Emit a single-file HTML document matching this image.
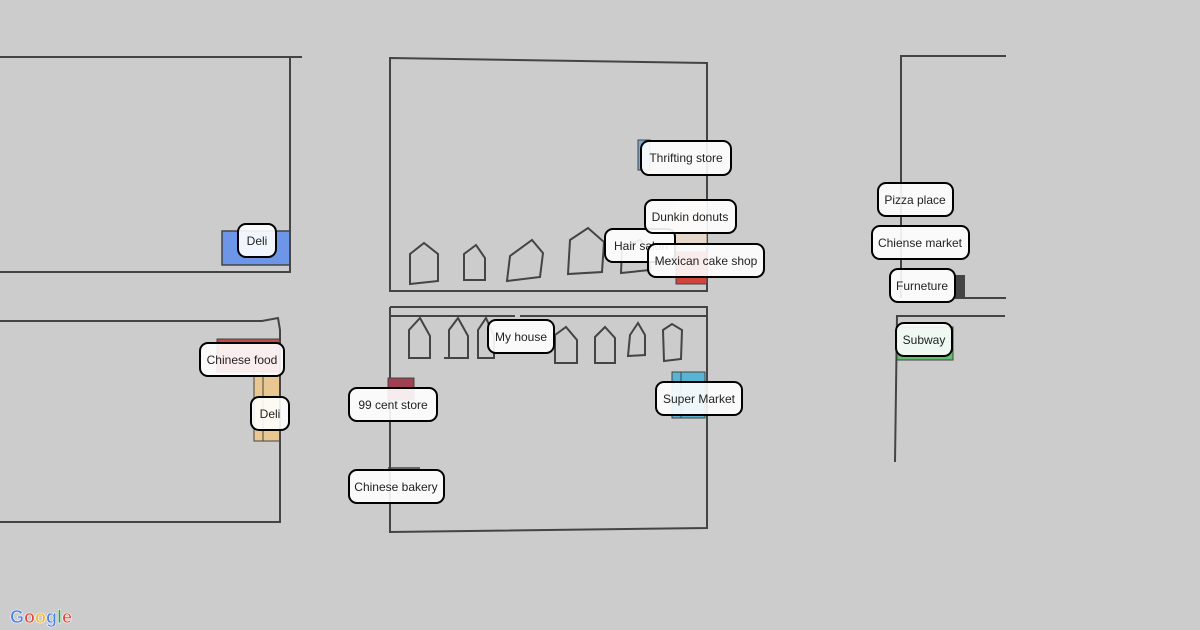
<!DOCTYPE html>
<html><head><meta charset="utf-8"><style>
html,body{margin:0;padding:0;background:#cccccc;}
svg{display:block;}
text{font-family:"Liberation Sans",sans-serif;font-size:12px;fill:#222;}
.l{fill:none;stroke:#444;stroke-width:2;}
.h{fill:none;stroke:#444;stroke-width:2;stroke-linejoin:miter;}
.b{fill:#fff;fill-opacity:0.9;stroke:#000;stroke-width:2;}
</style></head><body>
<svg width="1200" height="630" viewBox="0 0 1200 630">
<rect width="1200" height="630" fill="#cccccc"/>
<!-- left top -->
<rect x="222" y="231" width="68" height="34" fill="#6e96e8" stroke="#444" stroke-width="1.5"/>
<polyline class="l" points="0,57 302,57"/>
<polyline class="l" points="290,57 290,272 0,272"/>
<!-- left lower -->
<rect x="217" y="339" width="63" height="33" fill="#c04a4a" stroke="#444" stroke-width="1"/>
<rect x="254" y="372" width="26" height="69" fill="#e8c890" stroke="#444" stroke-width="1"/>
<line x1="263" y1="372" x2="263" y2="441" stroke="#444" stroke-width="1"/>
<polyline class="l" points="0,321 262,321 278,318 280,330 280,522 0,522"/>
<!-- middle top -->
<polygon class="l" points="390,58 707,63 707,291 390,291"/>
<rect x="638" y="140" width="12" height="30" fill="#7fa8d0" stroke="#444" stroke-width="1"/>
<rect x="676" y="252" width="31" height="32" fill="#d0443c" stroke="#444" stroke-width="1"/>
<rect x="676" y="200" width="31" height="48" fill="#f5e0c8" opacity="0.6"/>
<polygon class="h" points="410,254 424,243 438,254 438,281 410,284"/>
<polygon class="h" points="464,254 476,245 485,258 485,280 464,280"/>
<polygon class="h" points="510,256 532,240 543,253 540,277 507,281"/>
<polygon class="h" points="570,240 588,228 604,242 602,272 568,274"/>
<polygon class="h" points="622,248 640,240 650,250 650,270 621,273"/>
<!-- middle lower -->
<polyline class="l" points="390,307 707,307 707,528 390,532 390,307"/>
<line x1="390" y1="316" x2="515" y2="316" stroke="#444" stroke-width="2"/>
<line x1="520" y1="316" x2="707" y2="316" stroke="#444" stroke-width="2"/>
<polygon class="h" points="409,330 420,318 430,336 430,358 409,358"/>
<polygon class="h" points="449,330 458,318 468,336 468,358 449,358"/>
<line x1="444" y1="358" x2="469" y2="358" stroke="#444" stroke-width="2"/>
<polygon class="h" points="478,330 486,318 494,336 494,358 478,358"/>
<polygon class="h" points="555,335 566,327 577,340 577,363 555,363"/>
<polygon class="h" points="595,337 605,327 615,338 615,363 595,363"/>
<polygon class="h" points="630,335 638,323 645,335 645,355 628,356"/>
<polygon class="h" points="663,330 672,324 682,330 681,359 664,361"/>
<rect x="388" y="378" width="26" height="22" fill="#a04050" stroke="#444" stroke-width="1"/>
<rect x="672" y="372" width="33" height="46" fill="#58b4d4" stroke="#444" stroke-width="1"/>
<line x1="681" y1="372" x2="681" y2="418" stroke="#444" stroke-width="1"/>
<line x1="388" y1="468" x2="420" y2="468" stroke="#444" stroke-width="1.5"/>
<!-- right -->
<polyline class="l" points="1006,56 901,56 901,298"/>
<line x1="955" y1="298" x2="1006" y2="298" stroke="#444" stroke-width="2"/>
<rect x="955" y="275" width="10" height="22" fill="#444"/>
<polyline class="l" points="1005,316 897,316 895,462"/>
<rect x="897" y="327" width="56" height="33" fill="#60c070" stroke="#444" stroke-width="1"/>
<!-- labels -->
<rect class="b" x="238" y="224" width="38" height="33" rx="8"/><text x="257" y="245" text-anchor="middle">Deli</text>
<rect class="b" x="641" y="141" width="90" height="34" rx="8"/><text x="686" y="162" text-anchor="middle">Thrifting store</text>
<rect class="b" x="605" y="229" width="70" height="33" rx="8"/><text x="614" y="250">Hair salon</text>
<rect class="b" x="645" y="200" width="91" height="33" rx="8"/><text x="690" y="221" text-anchor="middle">Dunkin donuts</text>
<rect class="b" x="648" y="244" width="116" height="33" rx="8"/><text x="706" y="265" text-anchor="middle">Mexican cake shop</text>
<rect class="b" x="878" y="183" width="75" height="33" rx="8"/><text x="915" y="204" text-anchor="middle">Pizza place</text>
<rect class="b" x="872" y="226" width="97" height="33" rx="8"/><text x="920" y="247" text-anchor="middle">Chiense market</text>
<rect class="b" x="890" y="269" width="65" height="33" rx="8"/><text x="922" y="290" text-anchor="middle">Furneture</text>
<rect class="b" x="896" y="323" width="56" height="33" rx="8"/><text x="924" y="344" text-anchor="middle">Subway</text>
<rect class="b" x="488" y="320" width="66" height="33" rx="8"/><text x="521" y="341" text-anchor="middle">My house</text>
<rect class="b" x="200" y="343" width="84" height="33" rx="8"/><text x="242" y="364" text-anchor="middle">Chinese food</text>
<rect class="b" x="251" y="397" width="38" height="33" rx="8"/><text x="270" y="418" text-anchor="middle">Deli</text>
<rect class="b" x="349" y="388" width="88" height="33" rx="8"/><text x="393" y="409" text-anchor="middle">99 cent store</text>
<rect class="b" x="656" y="382" width="86" height="33" rx="8"/><text x="699" y="403" text-anchor="middle">Super Market</text>
<rect class="b" x="349" y="470" width="95" height="33" rx="8"/><text x="396" y="491" text-anchor="middle">Chinese bakery</text>
<!-- google -->
<text x="10" y="623" style="font-size:18px;font-weight:bold;stroke:#fff;stroke-width:0.6;"><tspan fill="#4a7fe8">G</tspan><tspan fill="#e04a3c">o</tspan><tspan fill="#f2b820">o</tspan><tspan fill="#4a7fe8">g</tspan><tspan fill="#30a050">l</tspan><tspan fill="#e04a3c">e</tspan></text>
</svg>
</body></html>
